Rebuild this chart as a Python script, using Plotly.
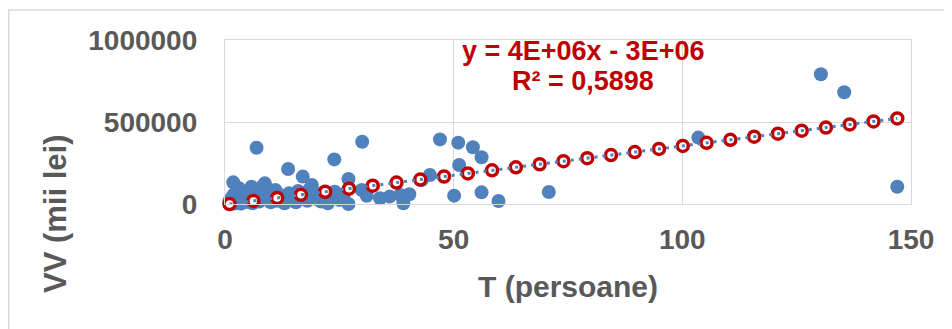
import plotly.graph_objects as go

# ---- data ----
T_persoane = [1, 1, 1, 1, 1.5, 1.8, 2, 2, 2, 2.5, 3, 3, 3, 3.5, 4, 4, 4.5, 5, 5, 5.8,
              6, 6.5, 6.9, 7, 7.5, 8, 8.3, 8.7, 9, 9.5, 10, 10.5, 11, 11.5, 12, 12.5,
              13, 13.8, 14, 14.5, 15, 15.5, 16, 17, 17.5, 18, 18.5, 19, 19.5, 20, 21,
              21.5, 22, 22.5, 23, 24, 23.9, 25, 26, 27, 27, 29.9, 30, 31, 33.9, 36,
              38.3, 39, 40.3, 43, 44.8, 47, 50.1, 51, 51.2, 54.2, 56.1, 56.1, 59.8,
              70.8, 103.5, 130.3, 135.4, 147]
VV_mii_lei = [5000, 20000, 0, 10000, 40000, 132000, 3000, 15000, 60000, 25000, 8000,
              98000, 45000, 2000, 30000, 70000, 12000, 50000, 20000, 105000, 5000,
              35000, 343000, 80000, 15000, 60000, 110000, 126000, 30000, 70000, 10000,
              45000, 85000, 20000, 55000, 30000, 5000, 213000, 65000, 25000, 45000,
              10000, 80000, 167000, 40000, 20000, 90000, 116000, 55000, 30000, 15000,
              70000, 40000, 5000, 55000, 75000, 272000, 25000, 60000, 152000, 0,
              85000, 380000, 50000, 35000, 45000, 55000, 4000, 59000, 146000, 177000,
              394000, 51000, 374000, 238000, 346000, 285000, 71000, 18000, 73000,
              405000, 791000, 681000, 105000]

# fitted (trend) series
T_fit = [1, 6.2, 11.4, 16.6, 21.9, 27.1, 32.3, 37.5, 42.7, 47.9, 53.1, 58.4, 63.6,
         68.8, 74, 79.2, 84.4, 89.6, 94.9, 100.1, 105.3, 110.5, 115.7, 120.9, 126.1,
         131.4, 136.6, 141.8, 147]
VV_fit = [0, 18600, 37200, 55800, 74700, 93300, 112000, 130500, 149000, 167700,
          186300, 205200, 223800, 242400, 261000, 279600, 298200, 316800, 335700,
          354300, 372900, 391500, 410100, 428700, 447300, 466200, 484800, 503400,
          522000]

x_ticks = [0, 50, 100, 150]
y_ticks = [0, 500000, 1000000]
equation_text = "y = 4E+06x - 3E+06"
r2_text = "R² = 0,5898"
x_title = "T (persoane)"
y_title = "VV (mii lei)"

# ---- layout geometry (page pixels; the page body adds an 8px offset) ----
OFF = 8
W, H = 952 - OFF, 329 - OFF
L, R, TOP, BOT = 225 - OFF, 911 - OFF, 40 - OFF, 204 - OFF


def px(xp):
    return (xp - OFF - L) / (R - L)


def py(yp):
    return (BOT - (yp - OFF)) / (BOT - TOP)


FONT = "Liberation Sans, Arial, sans-serif"
GREY = "#595959"
BLUE = "#4F81BD"
RED = "#C00000"
GRID = "#D9D9D9"

fig = go.Figure()
fig.add_trace(go.Scatter(x=T_persoane, y=VV_mii_lei, mode="markers",
                         marker=dict(color=BLUE, size=14, line=dict(width=0)),
                         cliponaxis=False, showlegend=False))
fig.add_trace(go.Scatter(x=T_fit, y=VV_fit, mode="markers",
                         marker=dict(color="white", size=11,
                                     line=dict(color=RED, width=3.5)),
                         cliponaxis=False, showlegend=False))
fig.add_trace(go.Scatter(x=T_fit, y=VV_fit, mode="lines",
                         line=dict(color=BLUE, width=3, dash="3px,5px"),
                         cliponaxis=False, showlegend=False))

axis_common = dict(showgrid=True, gridcolor=GRID, gridwidth=1.3, zeroline=False,
                   showline=True, linecolor=GRID, linewidth=1.3, mirror=True,
                   tickfont=dict(family=FONT, size=28, color=GREY),
                   ticks="outside", tickcolor="rgba(0,0,0,0)")

fig.update_layout(
    width=W, height=H,
    margin=dict(l=L, r=W - R, t=TOP, b=H - BOT, pad=0),
    paper_bgcolor="white", plot_bgcolor="white",
    font=dict(family=FONT),
    xaxis=dict(range=[0, 150], tickvals=x_ticks,
               ticktext=["<b>%d</b>" % v for v in x_ticks],
               ticklen=10, **axis_common),
    yaxis=dict(range=[0, 1000000], tickvals=y_ticks,
               ticktext=["<b>%d</b>" % v for v in y_ticks],
               ticklen=21, **axis_common),
    annotations=[
        dict(text="<b>%s</b>" % x_title, xref="paper", yref="paper",
             x=px(568), y=py(286), xanchor="center", yanchor="middle",
             showarrow=False, font=dict(family=FONT, size=30, color=GREY)),
        dict(text="<b>%s</b>" % y_title, xref="paper", yref="paper",
             x=px(55), y=py(214), xanchor="center", yanchor="middle", textangle=-90,
             showarrow=False, font=dict(family=FONT, size=31, color=GREY)),
        dict(text="<b>%s</b>" % equation_text, xref="paper", yref="paper",
             x=px(583), y=py(51), xanchor="center", yanchor="middle",
             showarrow=False, font=dict(family=FONT, size=27, color=RED)),
        dict(text="<b>%s</b>" % r2_text, xref="paper", yref="paper",
             x=px(583), y=py(81), xanchor="center", yanchor="middle",
             showarrow=False, font=dict(family=FONT, size=27, color=RED)),
    ],
    shapes=[
        dict(type="line", xref="paper", yref="paper", x0=px(8.8), x1=px(8.8),
             y0=py(10), y1=py(340), line=dict(color=GRID, width=1.5)),
        dict(type="line", xref="paper", yref="paper", x0=px(8), x1=px(960),
             y0=py(10), y1=py(10), line=dict(color=GRID, width=1.5)),
    ],
)

fig.write_html("out.html")
